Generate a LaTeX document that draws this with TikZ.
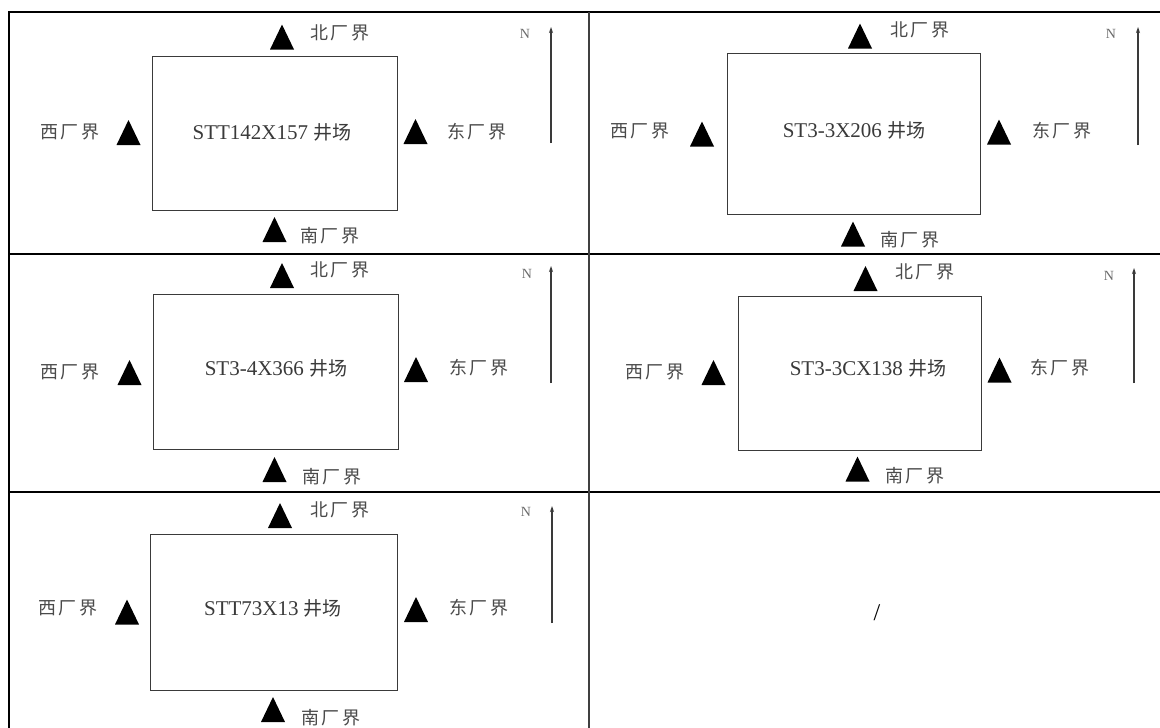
\documentclass[tikz,border=0pt]{standalone}
\usepackage{fontspec}
\setmainfont{Liberation Serif}
\newfontfamily\cjk{Noto Sans CJK SC}
\newfontfamily\cjklbl[LetterSpace=12]{Noto Sans CJK SC}
\usetikzlibrary{arrows.meta}
\definecolor{ink}{HTML}{3A3A3A}
\definecolor{lblink}{HTML}{4A4A4A}
\definecolor{boxline}{HTML}{3A3A3A}
\tikzset{
  tabline/.style={line width=1.6pt, black},
  tabouter/.style={line width=2.6pt, black},
  sitebox/.style={draw=boxline, line width=1.3pt, fill=none},
  lbl/.style={inner sep=0pt, text=lblink, font=\cjklbl\fontsize{18}{18}\selectfont},
  sitetext/.style={inner sep=0pt, text=ink, font=\fontsize{21}{21}\selectfont},
  nlet/.style={inner sep=0pt, text=ink!75, font=\fontsize{14}{14}\selectfont},
  narrow/.style={draw=boxline, line width=1.2pt, -{Stealth[length=6pt,width=4pt]}},
  marker/.style={fill=black, draw=none}
}
% filled triangle marker centred at (#1,#2), y measured downwards
\newcommand\tmark[2]{\fill[marker] ({#1-12},{#2+12.5}) -- ({#1+12},{#2+12.5}) -- ({#1},{#2-12.5}) -- cycle;}
\newcommand\wjc{{\cjk\fontsize{19}{19}\selectfont 井场}}
\begin{document}
\begin{tikzpicture}[x=1pt,y=-1pt]
\useasboundingbox (0,0) rectangle (1160,728);
\fill[white] (0,0) rectangle (1160,728);
\begin{scope}
\clip (0,0) rectangle (1160,728);
% table
\draw[tabouter] (8,12) -- (1165,12);
\draw[tabouter] (9,11) -- (9,735);
\draw[tabline] (9,254) -- (1165,254);
\draw[tabline] (9,492) -- (1165,492);
\draw[tabline, draw=black!75, line width=2pt] (589,12) -- (589,735);
\end{scope}

% ---------- Cell A ----------
\node[sitebox, minimum width=245pt, minimum height=154pt, anchor=north west] (boxA) at (152,56) {};
\node[sitetext] (tA) at (272,132) {STT142X157 \wjc};
\tmark{282}{37}
\node[lbl] (nA) at (340,33) {北厂界};
\node[lbl] (wA) at (70,132) {西厂界};
\tmark{128.5}{132.5}
\tmark{415.5}{131.5}
\node[lbl] (eA) at (477,132) {东厂界};
\tmark{274.5}{229.5}
\node[lbl] (sA) at (330,236) {南厂界};
\node[nlet] (NA) at (525,34) {N};
\coordinate (aA1) at (551,143); \coordinate (aA2) at (551,27);
\draw[narrow] (aA1) -- (aA2);

% ---------- Cell B ----------
\node[sitebox, minimum width=253pt, minimum height=161pt, anchor=north west] (boxB) at (727,53) {};
\node[sitetext] (tB) at (854,130) {ST3-3X206 \wjc};
\tmark{860}{36}
\node[lbl] (nB) at (920,30) {北厂界};
\node[lbl] (wB) at (640,131) {西厂界};
\tmark{702}{134}
\tmark{999}{132}
\node[lbl] (eB) at (1062,131) {东厂界};
\tmark{853}{234}
\node[lbl] (sB) at (910,240) {南厂界};
\node[nlet] (NB) at (1111,34) {N};
\coordinate (aB1) at (1138,145); \coordinate (aB2) at (1138,27);
\draw[narrow] (aB1) -- (aB2);

% ---------- Cell C ----------
\node[sitebox, minimum width=245pt, minimum height=155pt, anchor=north west] (boxC) at (153,294) {};
\node[sitetext] (tC) at (276,368) {ST3-4X366 \wjc};
\tmark{282}{275.5}
\node[lbl] (nC) at (340,270) {北厂界};
\node[lbl] (wC) at (70,372) {西厂界};
\tmark{129.5}{372.5}
\tmark{416}{369.5}
\node[lbl] (eC) at (479,368) {东厂界};
\tmark{274.5}{469.5}
\node[lbl] (sC) at (332,477) {南厂界};
\node[nlet] (NC) at (527,274) {N};
\coordinate (aC1) at (551,383); \coordinate (aC2) at (551,266);
\draw[narrow] (aC1) -- (aC2);

% ---------- Cell D ----------
\node[sitebox, minimum width=243pt, minimum height=154pt, anchor=north west] (boxD) at (738,296) {};
\node[sitetext] (tD) at (868,368) {ST3-3CX138 \wjc};
\tmark{865.5}{278.5}
\node[lbl] (nD) at (925,272) {北厂界};
\node[lbl] (wD) at (655,372) {西厂界};
\tmark{713.5}{372.5}
\tmark{999.5}{370}
\node[lbl] (eD) at (1060,368) {东厂界};
\tmark{857.5}{469}
\node[lbl] (sD) at (915,476) {南厂界};
\node[nlet] (ND) at (1109,276) {N};
\coordinate (aD1) at (1134,383); \coordinate (aD2) at (1134,268);
\draw[narrow] (aD1) -- (aD2);

% ---------- Cell E ----------
\node[sitebox, minimum width=247pt, minimum height=156pt, anchor=north west] (boxE) at (150,534) {};
\node[sitetext] (tE) at (273,608) {STT73X13 \wjc};
\tmark{280}{515.5}
\node[lbl] (nE) at (340,510) {北厂界};
\node[lbl] (wE) at (68,608) {西厂界};
\tmark{127}{612}
\tmark{416}{609.5}
\node[lbl] (eE) at (479,608) {东厂界};
\tmark{273}{709.5}
\node[lbl] (sE) at (331,718) {南厂界};
\node[nlet] (NE) at (526,512) {N};
\coordinate (aE1) at (552,623); \coordinate (aE2) at (552,506);
\draw[narrow] (aE1) -- (aE2);

% ---------- Cell F ----------
\node[sitetext, font=\fontsize{24}{24}\selectfont, text=black] (slash) at (877,613) {/};
\end{tikzpicture}
\end{document}
